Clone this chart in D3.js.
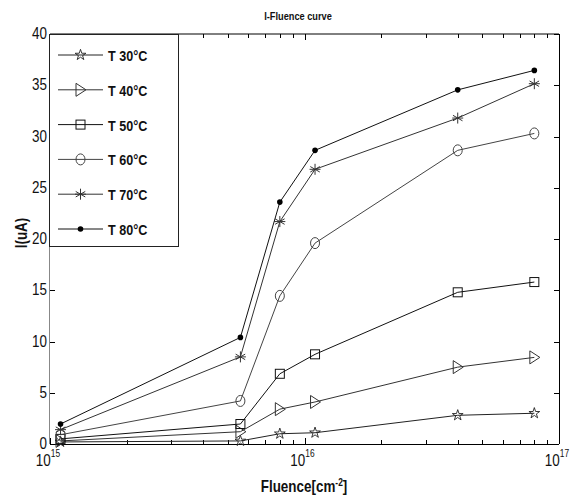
<!DOCTYPE html>
<html>
<head>
<meta charset="utf-8">
<script src="https://cdn.jsdelivr.net/npm/d3@7"></script>
<style>
  html, body { margin: 0; padding: 0; background: #fff; }
  svg { display: block; font-family: "Liberation Sans", Arial, sans-serif; }
</style>
</head>
<body>
<svg id="chart" width="572" height="498"></svg>
<script>
// Fluence values (cm^-2) shared by every temperature series
const fluence = [1.1e15, 5.6e15, 8.0e15, 1.1e16, 4.0e16, 8.0e16];

// Current (uA) per temperature
const t30 = [0.2, 0.3, 1.0, 1.1, 2.8, 3.0];
const t40 = [0.3, 1.2, 3.4, 4.1, 7.5, 8.45];
const t50 = [0.5, 1.95, 6.85, 8.75, 14.8, 15.8];
const t60 = [0.9, 4.2, 14.45, 19.6, 28.65, 30.3];
const t70 = [1.4, 8.5, 21.7, 26.8, 31.8, 35.15];
const t80 = [1.95, 10.4, 23.6, 28.65, 34.55, 36.45];

const seriesNames = ["T 30°C", "T 40°C", "T 50°C", "T 60°C", "T 70°C", "T 80°C"];
const markerKinds = ["star", "triangle", "square", "circle", "asterisk", "dot"];
const lineColors = ["#222", "#333", "#111", "#444", "#333", "#111"];
const yTicks = [0, 5, 10, 15, 20, 25, 30, 35, 40];
const xMajor = [1e15, 1e16, 1e17];
const seriesData = [t30, t40, t50, t60, t70, t80];

const svg = d3.select("#chart");
const margin = { left: 50, top: 34, right: 13, bottom: 54 };
const W = 572, H = 498;
const x = d3.scaleLog().domain([1e15, 1e17]).range([margin.left, W - margin.right]);
const y = d3.scaleLinear().domain([0, 40]).range([H - margin.bottom, margin.top]);

// condensed text: horizontally squeezed around its anchor point
const SQ = 0.84;
function label(sel, tx, ty, opts) {
  const t = sel.append("text")
    .attr("transform", `translate(${tx},${ty}) ${opts.rotate ? "rotate(" + opts.rotate + ") " : ""}scale(${SQ},1)`)
    .attr("text-anchor", opts.anchor || "start")
    .attr("font-size", opts.size || 14)
    .attr("font-weight", opts.bold ? "bold" : "normal")
    .attr("fill", "#111");
  return t;
}

// Minor log ticks (2..9 within each decade)
const minor = [];
for (let e = 15; e < 17; e++) for (let m = 2; m <= 9; m++) minor.push(m * Math.pow(10, e));

const x0 = margin.left, x1 = W - margin.right, y0 = H - margin.bottom, y1 = margin.top;
const g = svg.append("g");

// frame
g.append("line").attr("x1", x0).attr("x2", x1).attr("y1", y1).attr("y2", y1).attr("stroke", "#000");
g.append("line").attr("x1", x0).attr("x2", x1).attr("y1", y0 + 0.5).attr("y2", y0 + 0.5).attr("stroke", "#000");
g.append("line").attr("x1", x1 + 0.5).attr("x2", x1 + 0.5).attr("y1", y1).attr("y2", y0).attr("stroke", "#000");
g.append("line").attr("x1", x0 - 0.5).attr("x2", x0 - 0.5).attr("y1", y1).attr("y2", y0).attr("stroke", "#888");

// y ticks, left and right
yTicks.forEach(v => {
  const yy = Math.round(y(v)) + 0.5;
  g.append("line").attr("x1", x0).attr("x2", x0 + 5).attr("y1", yy).attr("y2", yy).attr("stroke", "#000");
  g.append("line").attr("x1", x1 - 5).attr("x2", x1).attr("y1", yy).attr("y2", yy).attr("stroke", "#000");
  label(g, x0 - 3, y(v) + 5, { anchor: "end", size: 16 }).text(v);
});

// x ticks, bottom and top
xMajor.concat(minor).forEach(v => {
  const xx = Math.round(x(v)) + 0.5;
  const len = xMajor.includes(v) ? 6 : 4;
  g.append("line").attr("x1", xx).attr("x2", xx).attr("y1", y0).attr("y2", y0 - len).attr("stroke", "#000");
  g.append("line").attr("x1", xx).attr("x2", xx).attr("y1", y1).attr("y2", y1 + len).attr("stroke", "#000");
});
xMajor.forEach(v => {
  const e = Math.round(Math.log10(v));
  const t = label(g, x(v) - 2, y0 + 22, { anchor: "middle", size: 16 });
  t.append("tspan").text("10");
  t.append("tspan").attr("dy", -9).attr("font-size", 10).text(e);
});

// titles
label(svg, 298, 20, { anchor: "middle", size: 11, bold: true }).text("I-Fluence curve");
const xl = label(svg, 304, 492, { anchor: "middle", size: 16, bold: true });
xl.append("tspan").text("Fluence[cm");
xl.append("tspan").attr("dy", -6).attr("font-size", 10).text("-2");
xl.append("tspan").attr("dy", 6).text("]");
label(svg, 27, 233, { anchor: "middle", size: 16, bold: true, rotate: -90 }).text("I(uA)");

// marker drawing
function marker(sel, kind, cx, cy, color) {
  const m = sel.append("g").attr("transform", `translate(${cx},${cy})`);
  if (kind === "star") {
    m.append("path").attr("d", d3.symbol(d3.symbolStar, 36)()).attr("fill", "none").attr("stroke", color).attr("stroke-width", 0.9);
  } else if (kind === "triangle") {
    m.append("path").attr("d", "M-4.5,-6.5L5.5,0L-4.5,6.5Z").attr("fill", "none").attr("stroke", color);
  } else if (kind === "square") {
    m.append("rect").attr("x", -4.5).attr("y", -4.5).attr("width", 9).attr("height", 9).attr("fill", "none").attr("stroke", color);
  } else if (kind === "circle") {
    m.append("ellipse").attr("rx", 4.5).attr("ry", 5.5).attr("fill", "none").attr("stroke", color);
  } else if (kind === "asterisk") {
    const r = 5.5;
    [0, 60, 120].forEach(a => {
      const rad = a * Math.PI / 180;
      m.append("line").attr("x1", -r * Math.sin(rad)).attr("y1", -r * Math.cos(rad))
        .attr("x2", r * Math.sin(rad)).attr("y2", r * Math.cos(rad)).attr("stroke", color);
    });
    m.append("line").attr("x1", -r).attr("x2", r).attr("y1", 0).attr("y2", 0).attr("stroke", color);
  } else if (kind === "dot") {
    m.append("circle").attr("r", 2.8).attr("fill", "#000");
  }
}

const line = d3.line().x(d => x(d[0])).y(d => y(d[1]));
seriesData.forEach((vals, i) => {
  const pts = fluence.map((f, j) => [f, vals[j]]);
  const sg = svg.append("g");
  sg.append("path").attr("d", line(pts)).attr("fill", "none").attr("stroke", lineColors[i]).attr("stroke-width", 1);
  pts.forEach(p => marker(sg, markerKinds[i], x(p[0]), y(p[1]), lineColors[i]));
});

// legend
const lg = svg.append("g");
lg.append("rect").attr("x", x0 - 0.5).attr("y", y1 + 0.5).attr("width", 129).attr("height", 212)
  .attr("fill", "#fff").attr("stroke", "#222");
seriesNames.forEach((name, i) => {
  const ly = 55 + i * 34.8;
  lg.append("line").attr("x1", 58).attr("x2", 103).attr("y1", ly).attr("y2", ly).attr("stroke", lineColors[i]);
  marker(lg, markerKinds[i], 80.5, ly, lineColors[i]);
  label(lg, 108, ly + 6, { size: 15, bold: true }).text(name);
});
</script>
</body>
</html>
